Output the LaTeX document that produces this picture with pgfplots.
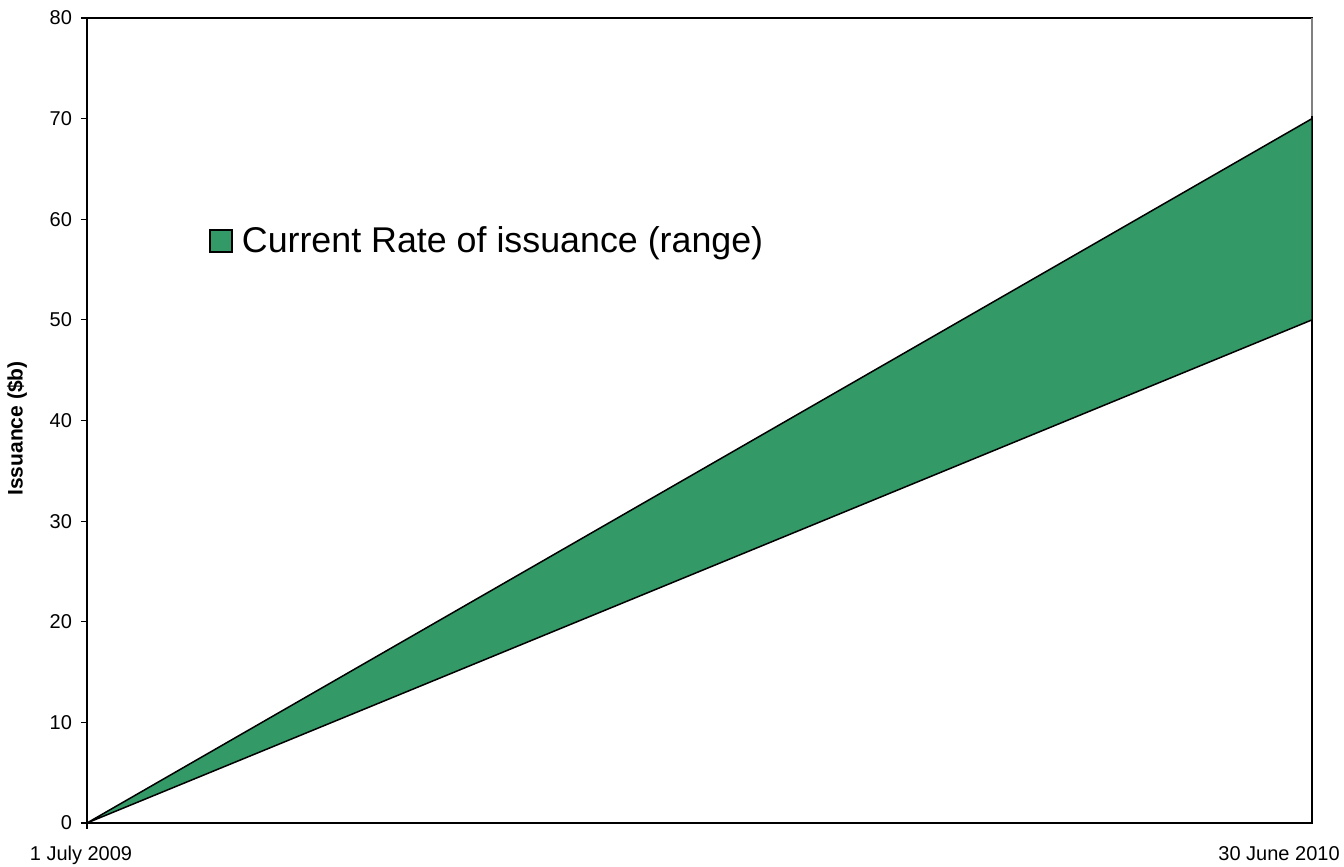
\documentclass[border=0pt]{standalone}
\usepackage{fontspec}
\setmainfont{Liberation Sans}
\usepackage{pgfplots}
\pgfplotsset{compat=1.18}
\definecolor{seagreen}{RGB}{51,153,102}
\begin{document}
\begin{tikzpicture}
\useasboundingbox (-43.5pt,-22pt) rectangle (628.5pt,411.5pt);
\begin{axis}[
  at={(0,0)}, anchor=south west,
  width=612.5pt, height=402.5pt, scale only axis,
  xmin=0, xmax=364, ymin=0, ymax=80,
  ytick={0,10,...,80},
  xtick={0}, xticklabels={},
  ytick pos=left, xtick pos=bottom,
  tick align=outside,
  major tick length=3pt,
  tick style={black, line width=0.6pt},
  axis line style={black, line width=1pt},
  y tick label style={font=\fontsize{10}{12}\selectfont, xshift=-1pt},
  /pgf/number format/assume math mode=true,
  ylabel={\bfseries Issuance (\$b)},
  ylabel style={font=\fontsize{10.5}{12}\selectfont, at={(axis description cs:-0.0571,0.49)}, anchor=center},
  clip=false,
  legend style={at={(axis description cs:0.0996,0.723)}, anchor=west, draw=none, fill=none,
    font=\fontsize{17.9}{20}\selectfont, inner sep=0pt,
    legend cell align=left},
  legend image code/.code={\draw[#1, line width=0.75pt] (0pt,-5.5pt) rectangle (11pt,5.5pt);},
]
\addplot[fill=seagreen, draw=black, line width=0.75pt] coordinates {(0,0) (364,70) (364,50) (0,0)} -- cycle;
\addlegendentry{\hspace{2.5pt}Current Rate of issuance (range)}
\addplot[draw=gray, line width=1pt, forget plot] coordinates {(364,70.3) (364,80)};
\node[anchor=base, inner sep=0pt, font=\fontsize{10}{12}\selectfont] at (axis description cs:-0.0049,-0.0472) {1 July 2009};
\node[anchor=base east, inner sep=0pt, font=\fontsize{10}{12}\selectfont] at (axis description cs:1.0229,-0.0472) {30 June 2010};
\end{axis}
\end{tikzpicture}
\end{document}
